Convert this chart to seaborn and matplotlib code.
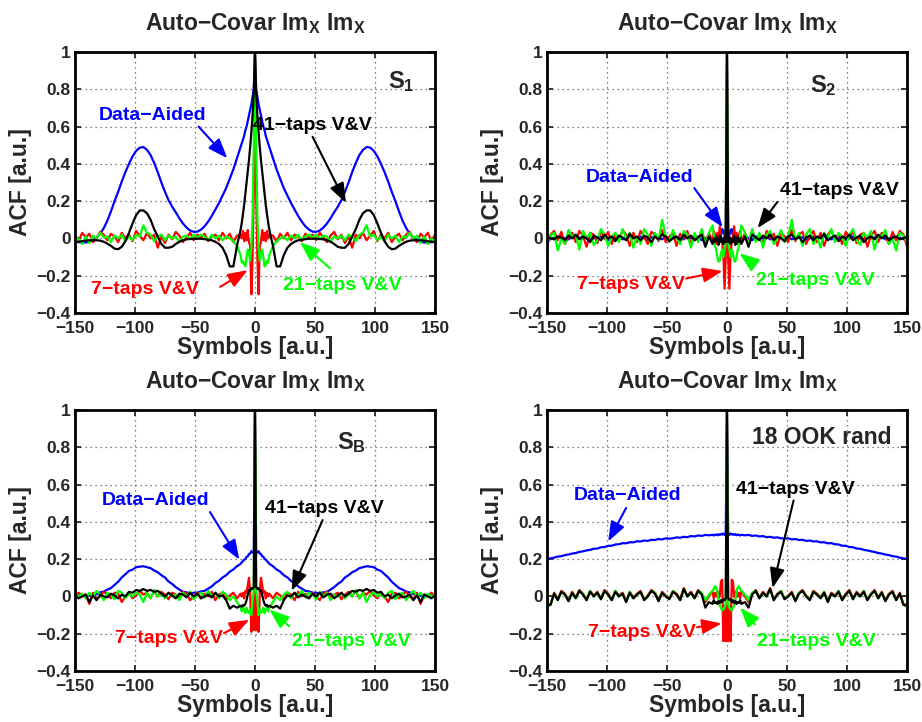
"""
Auto-covariance of Im_X for four signal sets, four equalizer variants each.
Only the one-sided lags are stored (an ACF is symmetric), the plot mirrors them.
"""

import numpy as np
import matplotlib
matplotlib.use("Agg")
import matplotlib.pyplot as plt
import seaborn as sns
from matplotlib.ticker import FuncFormatter

sns.set_style("ticks")
plt.rcParams['font.family'] = ['Liberation Sans', 'DejaVu Sans']
plt.rcParams['font.weight'] = 'bold'
plt.rcParams['mathtext.fontset'] = 'custom'
plt.rcParams['mathtext.rm'] = 'Liberation Sans:bold'
plt.rcParams['mathtext.bf'] = 'Liberation Sans:bold'
plt.rcParams['mathtext.default'] = 'bf'

BLUE, RED, GREEN, BLACK = '#0000FF', '#FF0000', '#00FF00', '#000000'

# one-sided lags [symbols]
LAGS = list(range(0, 13)) + list(range(15, 151, 3))

# ---------------- S1 ----------------
BLUE_S1 = [1.0, 0.8, 0.76, 0.72, 0.69, 0.66, 0.63, 0.6, 0.58, 0.55, 0.53, 0.51, 0.49,
           0.43, 0.37, 0.32, 0.27, 0.23, 0.19, 0.155, 0.12, 0.09, 0.065,
           0.047, 0.036, 0.035, 0.042, 0.058, 0.08, 0.108, 0.14, 0.17, 0.205,
           0.25, 0.3, 0.355, 0.405, 0.447, 0.475, 0.49, 0.487, 0.47, 0.44,
           0.40, 0.355, 0.305, 0.25, 0.2, 0.145, 0.095, 0.055, 0.025, 0.005,
           -0.01, -0.018, -0.022, -0.022, -0.02, -0.018]
RED_S1 = [1.0, 0.25, -0.1, -0.3, -0.04, -0.02, 0.045, -0.01, 0.03, -0.015, 0.04, 0.0, 0.02,
          0.015, -0.02, 0.025, 0.0, 0.03, -0.01, 0.02, 0.01, -0.015, 0.025,
          0.0, 0.02, -0.01, 0.03, 0.005, -0.02, 0.015, 0.035, -0.005, 0.02,
          -0.025, 0.01, -0.05, 0.02, 0.0, 0.03, -0.01, 0.015, 0.04, -0.015,
          0.02, 0.0, 0.03, -0.02, 0.01, 0.025, -0.01, 0.02, 0.035, 0.0,
          -0.02, 0.025, 0.005, 0.03, -0.015, 0.02]
GREEN_S1 = [1.0, 0.5, 0.12, -0.05, -0.12, -0.08, -0.06, -0.1, -0.15, -0.14, -0.12, -0.13, -0.09,
            -0.04, -0.015, 0.0, 0.01, -0.01, 0.015, 0.0, 0.02, -0.01, 0.01,
            0.02, 0.005, 0.02, -0.005, 0.015, 0.01, -0.02, 0.01, 0.0, 0.015,
            -0.01, 0.02, 0.01, -0.015, 0.02, 0.03, 0.07, 0.01, 0.02, -0.01,
            0.01, -0.015, 0.02, 0.0, 0.015, -0.02, 0.01, 0.005, 0.03, 0.0,
            0.015, -0.025, 0.01, -0.03, 0.0, -0.02]
BLACK_S1 = [1.0, 0.78, 0.66, 0.57, 0.49, 0.42, 0.36, 0.3, 0.24, 0.18, 0.13, 0.085, 0.045,
            -0.04, -0.15, -0.15, -0.09, -0.05, -0.03, -0.018, -0.01, -0.008, -0.004,
            -0.002, -0.002, -0.002, -0.003, -0.005, -0.01, -0.018, -0.03, -0.045, -0.05,
            -0.05, -0.03, 0.01, 0.05, 0.1, 0.135, 0.15, 0.15, 0.125, 0.08,
            0.03, -0.015, -0.045, -0.058, -0.055, -0.04, -0.028, -0.018, -0.012, -0.01,
            -0.01, -0.01, -0.012, -0.015, -0.018, -0.02]

# ---------------- S2 ----------------
BLUE_S2 = [1.0, 0.05, 0.02, 0.04, 0.05, 0.01, 0.0, 0.02, -0.01, 0.01, 0.0, 0.015, -0.005,
           0.01, 0.0, -0.01, 0.01, 0.005, 0.0, 0.01, -0.005, 0.0, 0.01,
           0.005, 0.0, 0.01, -0.005, 0.0, 0.01, 0.005, -0.01, 0.0, 0.01,
           0.0, 0.005, 0.01, 0.0, -0.005, 0.01, 0.0, 0.005, -0.01, 0.0,
           0.01, 0.005, 0.0, -0.005, 0.01, 0.0, 0.005, 0.0, 0.01, -0.005,
           0.0, 0.01, 0.0, 0.005, -0.005, 0.0]
RED_S2 = [1.0, -0.1, -0.27, -0.08, -0.02, 0.0, 0.065, -0.01, 0.03, -0.03, 0.02, 0.04, -0.02,
          0.03, -0.03, 0.045, -0.01, 0.02, -0.035, 0.04, 0.0, 0.025, -0.04,
          0.03, 0.01, -0.02, 0.045, -0.015, 0.02, 0.035, -0.03, 0.01, 0.04,
          -0.02, 0.03, -0.04, 0.02, 0.045, -0.01, 0.025, -0.03, 0.035, 0.0,
          0.04, -0.025, 0.02, 0.03, -0.045, 0.015, 0.04, -0.02, 0.03, 0.01,
          -0.03, 0.035, -0.01, 0.04, 0.02, -0.04]
GREEN_S2 = [1.0, -0.02, -0.06, -0.1, -0.06, -0.08, -0.12, -0.125, -0.1, -0.06, -0.04, 0.02, 0.07,
            0.03, -0.04, 0.05, -0.02, 0.03, -0.05, 0.02, 0.04, -0.03, 0.0,
            0.045, -0.02, 0.01, 0.1, -0.01, 0.03, -0.04, 0.02, 0.05, -0.03,
            0.01, -0.05, 0.03, 0.0, 0.05, -0.02, 0.03, 0.01, -0.04, 0.02,
            0.05, -0.01, -0.035, 0.03, 0.0, 0.04, -0.06, 0.02, 0.01, 0.045,
            -0.03, 0.0, -0.065, 0.03, 0.015, -0.02]
BLACK_S2 = [1.0, -0.02, 0.01, -0.03, 0.0, -0.02, 0.015, -0.035, -0.01, 0.01, -0.02, 0.0, -0.03,
            0.01, -0.045, 0.02, 0.005, -0.01, 0.015, 0.0, 0.02, -0.01, 0.01,
            0.0, -0.015, 0.01, 0.02, -0.005, 0.01, -0.02, 0.005, 0.015, -0.01,
            0.01, 0.0, 0.025, -0.01, 0.005, 0.015, -0.015, 0.01, 0.0, 0.02,
            -0.01, 0.005, 0.015, -0.02, 0.0, 0.01, -0.005, 0.02, 0.0, 0.015,
            -0.01, 0.005, 0.01, -0.005, 0.0, 0.01]

# ---------------- SB ----------------
BLUE_SB = [1.0, 0.24, 0.235, 0.243, 0.23, 0.228, 0.215, 0.213, 0.2, 0.198, 0.19, 0.183, 0.175,
           0.162, 0.145, 0.133, 0.114, 0.102, 0.084, 0.072, 0.054, 0.042, 0.03,
           0.027, 0.02, 0.02, 0.017, 0.022, 0.025, 0.037, 0.05, 0.067, 0.08,
           0.102, 0.114, 0.13, 0.139, 0.152, 0.157, 0.162, 0.16, 0.157, 0.144,
           0.137, 0.119, 0.102, 0.079, 0.062, 0.045, 0.037, 0.026, 0.022, 0.012,
           0.01, 0.004, 0.007, 0.002, 0.005, 0.002]
RED_SB = [1.0, -0.18, -0.05, -0.19, 0.02, 0.1, 0.06, 0.02, 0.03, -0.01, 0.02, 0.0, 0.015,
          -0.01, 0.02, 0.005, -0.015, 0.02, 0.01, -0.02, 0.025, 0.0, 0.015,
          -0.01, 0.02, 0.0, -0.02, 0.015, 0.025, -0.005, 0.01, 0.02, -0.015,
          0.01, 0.025, 0.0, 0.03, -0.01, 0.02, 0.01, 0.03, 0.005, -0.01,
          0.02, 0.0, -0.03, 0.015, 0.02, -0.01, 0.01, 0.025, 0.0, -0.015,
          0.02, -0.04, 0.01, 0.005, 0.02, 0.0]
GREEN_SB = [1.0, 0.03, -0.02, -0.1, -0.07, -0.09, -0.08, -0.06, -0.09, -0.07, -0.06, -0.08, -0.06,
            -0.03, 0.0, -0.02, 0.01, 0.025, -0.01, 0.02, 0.0, 0.03, -0.005,
            0.02, 0.01, -0.015, 0.025, 0.0, 0.02, -0.02, 0.01, 0.0, 0.02,
            -0.01, 0.015, 0.0, 0.035, -0.01, 0.02, -0.03, 0.01, 0.02, 0.0,
            0.015, -0.01, 0.02, 0.03, -0.015, 0.01, 0.02, -0.02, 0.01, 0.03,
            0.0, 0.02, -0.01, 0.015, 0.0, 0.01]
BLACK_SB = [1.0, 0.05, 0.04, 0.045, 0.03, 0.035, 0.01, -0.02, -0.04, -0.05, -0.045, -0.055, -0.05,
            -0.06, -0.05, -0.065, -0.02, 0.005, 0.0, 0.02, -0.005, 0.01, 0.0,
            -0.01, 0.015, 0.0, 0.02, -0.005, 0.01, 0.015, -0.01, 0.005, 0.02,
            0.0, 0.015, 0.03, 0.025, 0.035, 0.03, 0.04, 0.03, 0.035, 0.02,
            0.025, 0.0, 0.01, -0.01, 0.005, 0.015, -0.005, 0.0, 0.01, -0.02,
            0.005, -0.03, 0.01, 0.0, -0.01, 0.005]

# ---------------- 18 OOK rand ----------------
BLUE_OOK = [1.0, 0.335, 0.33, 0.338, 0.332, 0.335, 0.33, 0.334, 0.328, 0.333, 0.33, 0.327, 0.331,
            0.328, 0.33, 0.325, 0.327, 0.322, 0.324, 0.318, 0.32, 0.315, 0.317,
            0.312, 0.31, 0.312, 0.306, 0.308, 0.303, 0.304, 0.298, 0.3, 0.295,
            0.296, 0.29, 0.291, 0.285, 0.286, 0.28, 0.279, 0.272, 0.272, 0.265,
            0.264, 0.257, 0.256, 0.25, 0.247, 0.242, 0.239, 0.233, 0.23, 0.225,
            0.222, 0.216, 0.214, 0.208, 0.205, 0.2]
RED_OOK = [1.0, -0.24, -0.05, -0.24, 0.09, 0.08, 0.0, -0.01, 0.03, 0.0, 0.02, -0.01, 0.03,
           0.0, -0.03, 0.015, 0.035, -0.005, 0.025, 0.005, 0.045, -0.015, 0.015,
           0.03, -0.01, 0.005, 0.025, -0.02, 0.02, 0.035, 0.005, -0.015, 0.03,
           0.015, -0.005, 0.025, -0.025, 0.02, 0.005, 0.03, -0.015, 0.015, 0.035,
           -0.01, 0.025, 0.005, 0.03, -0.015, 0.015, 0.035, -0.005, 0.025, -0.02,
           0.015, 0.03, -0.015, 0.02, -0.04, -0.045]
GREEN_OOK = [1.0, -0.04, -0.06, -0.07, -0.075, -0.06, -0.05, -0.02, 0.03, 0.05, 0.055, 0.04, 0.03,
             0.01, -0.02, 0.02, 0.03, -0.01, 0.02, 0.0, 0.04, -0.02, 0.01,
             0.03, -0.01, 0.0, 0.02, -0.025, 0.02, 0.03, 0.0, -0.015, 0.025,
             0.01, -0.01, 0.025, -0.03, 0.015, 0.0, 0.03, -0.02, 0.01, 0.03,
             -0.015, 0.02, 0.0, 0.03, -0.02, 0.015, 0.03, -0.01, 0.02, -0.025,
             0.01, 0.025, -0.02, 0.015, -0.045, -0.05]
BLACK_OOK = [1.0, -0.01, -0.02, -0.015, -0.03, -0.02, -0.035, -0.025, -0.04, -0.03, -0.035, -0.02, -0.04,
             -0.03, -0.06, 0.01, 0.03, -0.01, 0.02, 0.0, 0.04, -0.02, 0.01,
             0.025, -0.015, 0.0, 0.02, -0.025, 0.015, 0.03, 0.0, -0.02, 0.025,
             0.01, -0.01, 0.02, -0.03, 0.015, 0.0, 0.025, -0.02, 0.01, 0.03,
             -0.015, 0.02, 0.0, 0.025, -0.02, 0.01, 0.03, -0.01, 0.02, -0.025,
             0.01, 0.025, -0.02, 0.015, -0.045, -0.05]

SET_LABELS = [r'S$_1$', r'S$_2$', r'S$_B$', '18 OOK rand']
SERIES = [
    (BLUE_S1, RED_S1, GREEN_S1, BLACK_S1),
    (BLUE_S2, RED_S2, GREEN_S2, BLACK_S2),
    (BLUE_SB, RED_SB, GREEN_SB, BLACK_SB),
    (BLUE_OOK, RED_OOK, GREEN_OOK, BLACK_OOK),
]

# label placement: set label (x, y, size); per curve (text, colour, text x, text y, arrow tail, arrow head)
SET_POS = [(111, 0.805, 17), (69, 0.787, 17), (68, 0.789, 17), (21, 0.82, 16.5)]
NOTES = [
    [('Data\u2212Aided', BLUE, -85.4, 0.634, (-47, 0.6), (-23, 0.43)),
     ('41\u2212taps V&V', BLACK, 47.9, 0.582, (48, 0.545), (75.8, 0.19)),
     ('7\u2212taps V&V', RED, -91.9, -0.30, (-29, -0.26), (-6, -0.17)),
     ('21\u2212taps V&V', GREEN, 73, -0.278, (62.5, -0.16), (37.5, -0.02))],
    [('Data\u2212Aided', BLUE, -72.5, 0.301, (-27.2, 0.27), (-3.6, 0.06)),
     ('41\u2212taps V&V', BLACK, 93.3, 0.233, (42, 0.195), (25.5, 0.055)),
     ('7\u2212taps V&V', RED, -80, -0.273, (-34, -0.215), (-3.6, -0.175)),
     ('21\u2212taps V&V', GREEN, 74, -0.249, (22.8, -0.14), (10.3, -0.08))],
    [('Data\u2212Aided', BLUE, -83, 0.491, (-37.5, 0.453), (-13, 0.197)),
     ('41\u2212taps V&V', BLACK, 58, 0.45, (56.4, 0.41), (30.6, 0.03)),
     ('7\u2212taps V&V', RED, -71.7, -0.249, (-25.8, -0.197), (-4.7, -0.125)),
     ('21\u2212taps V&V', GREEN, 80, -0.265, (28.6, -0.16), (12, -0.07))],
    [('Data\u2212Aided', BLUE, -82.5, 0.515, (-84, 0.475), (-99, 0.295)),
     ('41\u2212taps V&V', BLACK, 57, 0.548, (55.5, 0.515), (38, 0.045)),
     ('7\u2212taps V&V', RED, -70.8, -0.217, (-25, -0.165), (-4.4, -0.145)),
     ('21\u2212taps V&V', GREEN, 74.6, -0.265, (23.3, -0.15), (11, -0.06))],
]


def two_sided(vals):
    """Mirror one-sided ACF values onto negative lags"""
    lags = np.array(LAGS, dtype=float)
    v = np.array(vals, dtype=float)
    return np.concatenate([-lags[:0:-1], lags]), np.concatenate([v[:0:-1], v])


def minus_fmt(v, pos):
    return ('%g' % round(v, 2)).replace('-', '\u2212')


fig, axes = plt.subplots(2, 2, figsize=(9.22, 7.22), dpi=100)
fig.subplots_adjust(left=0.0813, right=0.9837, top=0.928, bottom=0.0706,
                    wspace=0.311, hspace=0.372)

for k, ax in enumerate(axes.flat):
    for vals, col in zip(SERIES[k], [BLUE, RED, GREEN, BLACK]):
        x, y = two_sided(vals)
        sns.lineplot(x=x, y=y, color=col, linewidth=1.6, ax=ax, legend=False)

    ax.set_xlim(-150, 150)
    ax.set_ylim(-0.4, 1)
    ax.set_xticks(np.arange(-150, 151, 50))
    ax.set_yticks([-0.4, -0.2, 0, 0.2, 0.4, 0.6, 0.8, 1])
    ax.xaxis.set_major_formatter(FuncFormatter(minus_fmt))
    ax.yaxis.set_major_formatter(FuncFormatter(minus_fmt))
    ax.grid(True, linestyle=(0, (1, 3)), color='0.35', linewidth=0.9)
    ax.tick_params(direction='in', top=True, right=True, length=4, width=1.3,
                   labelsize=12.5)
    ax.tick_params(axis='x', pad=6)
    ax.tick_params(axis='y', pad=3)
    for s in ax.spines.values():
        s.set_linewidth(2)
        s.set_color('black')

    ax.set_title('Auto\u2212Covar Im$_{X}$ Im$_{X}$', fontsize=16.5, fontweight='bold', pad=16)
    ax.set_xlabel('Symbols [a.u.]', fontsize=16.5, fontweight='bold', labelpad=0)
    ax.set_ylabel('ACF [a.u.]', fontsize=16.5, fontweight='bold', labelpad=3)

    sx, sy, fs = SET_POS[k]
    ax.text(sx, sy, SET_LABELS[k], fontsize=fs, fontweight='bold', ha='left', va='baseline')

    for text, col, tx, ty, tail, head in NOTES[k]:
        ax.text(tx, ty, text, color=col, fontsize=14, fontweight='bold',
                ha='center', va='baseline')
        ax.annotate('', xy=head, xytext=tail,
                    arrowprops=dict(arrowstyle='-|>,head_length=0.8,head_width=0.3',
                                    color=col, lw=1.5, shrinkA=0, shrinkB=0),
                    fontsize=15)

plt.savefig('out.png', dpi=100, facecolor='white')
